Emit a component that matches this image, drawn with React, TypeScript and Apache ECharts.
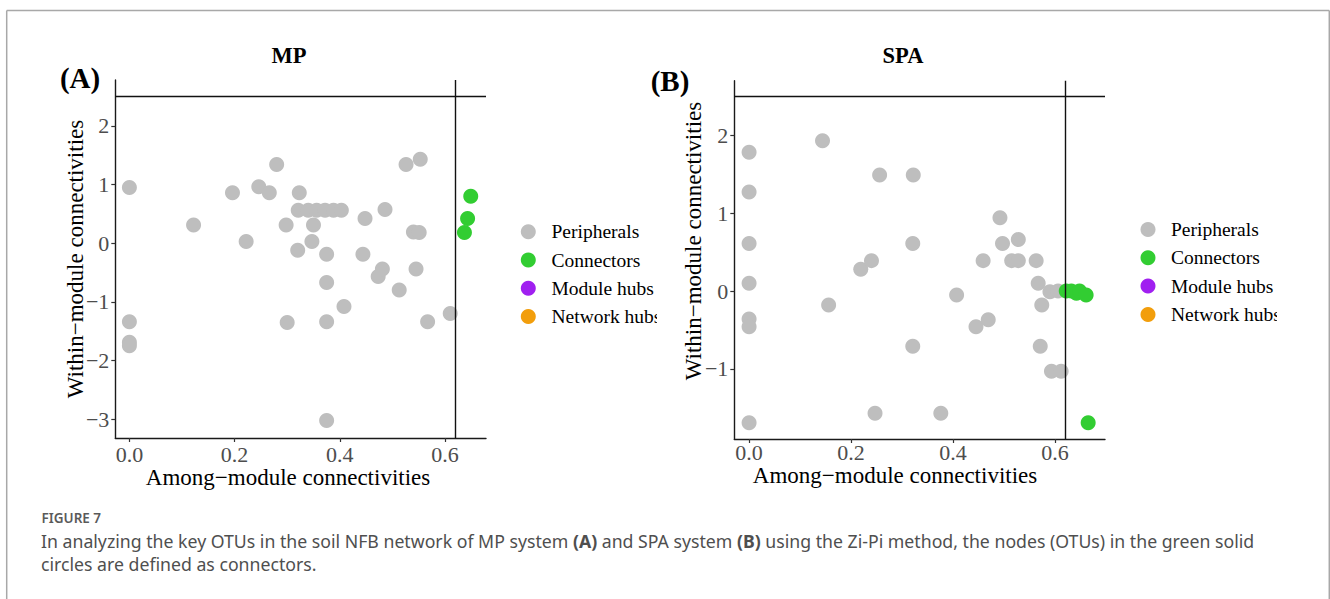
import React, { useEffect, useRef } from "react";
import * as echarts from "echarts";

// Axis ticks and Zi-Pi thresholds
const xTicks = [0, 0.2, 0.4, 0.6];
const yTicksMP = [-3, -2, -1, 0, 1, 2];
const yTicksSPA = [-1, 0, 1, 2];
const ziThreshold = 2.5;
const piThreshold = 0.62;

// MP system: [among-module Pi, within-module Zi]
const mpPeripherals: [number, number][] = [
  [0.0, 0.95], [0.0, -1.34], [0.0, -1.69], [0.0, -1.75],
  [0.122, 0.31], [0.196, 0.86], [0.222, 0.03], [0.246, 0.96],
  [0.266, 0.86], [0.28, 1.34], [0.298, 0.31], [0.3, -1.35],
  [0.323, 0.86], [0.32, -0.12],
  [0.321, 0.56], [0.34, 0.56], [0.356, 0.56], [0.372, 0.56], [0.388, 0.56], [0.403, 0.56],
  [0.35, 0.31], [0.347, 0.03], [0.375, -0.19], [0.375, -0.67],
  [0.375, -1.34], [0.375, -3.02], [0.408, -1.08], [0.448, 0.42],
  [0.444, -0.19], [0.473, -0.57], [0.481, -0.44], [0.486, 0.575],
  [0.513, -0.8], [0.526, 1.34], [0.553, 1.43], [0.54, 0.19],
  [0.551, 0.18], [0.545, -0.44], [0.567, -1.34], [0.61, -1.2],
];
const mpConnectors: [number, number][] = [
  [0.649, 0.8], [0.643, 0.42], [0.637, 0.18],
];

// SPA system: [among-module Pi, within-module Zi]
const spaPeripherals: [number, number][] = [
  [0.0, 1.78], [0.0, 1.27], [0.0, 0.61], [0.0, 0.1], [0.0, -0.36], [0.0, -0.46], [0.0, -1.69],
  [0.144, 1.93], [0.156, -0.18], [0.219, 0.28], [0.24, 0.39], [0.247, -1.57],
  [0.256, 1.49], [0.322, 1.49], [0.321, 0.61], [0.321, -0.71], [0.376, -1.57],
  [0.407, -0.05], [0.445, -0.46], [0.469, -0.37], [0.459, 0.39], [0.492, 0.94],
  [0.497, 0.61], [0.528, 0.66], [0.515, 0.39], [0.528, 0.39], [0.563, 0.39],
  [0.567, 0.1], [0.59, -0.01], [0.574, -0.18], [0.571, -0.71], [0.593, -1.03],
  [0.612, -1.03], [0.606, 0.0],
];
const spaConnectors: [number, number][] = [
  [0.622, 0.0], [0.632, 0.0], [0.642, -0.03], [0.648, 0.0], [0.661, -0.05], [0.665, -1.69],
];

// Node roles shown in the legends
const roles = ["Peripherals", "Connectors", "Module hubs", "Network hubs"];
const roleColors = ["#BEBEBE", "#32CD32", "#A020F0", "#F29E0C"];

const SERIF = "'Liberation Serif', 'Times New Roman', serif";
const SANS = "'Noto Sans', 'Open Sans', sans-serif";

const minus = (v: number) => (v < 0 ? "\u2212" + Math.abs(v) : String(v));

function xAxisFor(gridIndex: number, min: number, max: number, margin: number) {
  return {
    type: "value",
    gridIndex,
    min,
    max,
    axisLine: { show: true, onZero: false, lineStyle: { color: "#1a1a1a", width: 1.4 } },
    axisTick: { show: true, length: 4, customValues: xTicks, lineStyle: { color: "#333", width: 1.2 } },
    axisLabel: {
      customValues: xTicks,
      margin,
      formatter: (v: number) => v.toFixed(1),
      color: "#4D4D4D",
      fontFamily: SERIF,
      fontSize: 22,
    },
    splitLine: { show: false },
  };
}

function yAxisFor(gridIndex: number, min: number, max: number, ticks: number[]) {
  return {
    type: "value",
    gridIndex,
    min,
    max,
    axisLine: { show: true, onZero: false, lineStyle: { color: "#1a1a1a", width: 1.4 } },
    axisTick: { show: true, length: 4, customValues: ticks, lineStyle: { color: "#333", width: 1.2 } },
    axisLabel: {
      customValues: ticks,
      margin: 6,
      formatter: (v: number) => minus(v),
      color: "#4D4D4D",
      fontFamily: SERIF,
      fontSize: 22,
    },
    splitLine: { show: false },
  };
}

function seriesFor(idx: number, peri: [number, number][], conn: [number, number][]) {
  return [
    {
      name: roles[0],
      type: "scatter",
      xAxisIndex: idx,
      yAxisIndex: idx,
      data: peri,
      symbolSize: 15,
      itemStyle: { color: roleColors[0], opacity: 1 },
      z: 2,
    },
    {
      name: roles[1],
      type: "scatter",
      xAxisIndex: idx,
      yAxisIndex: idx,
      data: conn,
      symbolSize: 15,
      itemStyle: { color: roleColors[1], opacity: 1 },
      z: 3,
      markLine: {
        silent: true,
        symbol: "none",
        label: { show: false },
        lineStyle: { color: "#111", width: 1.4, type: "solid" },
        data: [{ yAxis: ziThreshold }, { xAxis: piThreshold }],
        z: 5,
      },
    },
  ];
}

function legendFor(cx: number, textX: number, top: number, clipX: number) {
  const items: any[] = [];
  roles.forEach((r, i) => {
    const y = top + i * 28.3;
    items.push({
      type: "circle",
      shape: { cx, cy: y, r: 7.5 },
      style: { fill: roleColors[i] },
      z: 10,
    });
    items.push({
      type: "text",
      x: textX,
      y,
      style: {
        text: r,
        fontFamily: SERIF,
        fontSize: 19.5,
        fill: "#000",
        align: "left",
        verticalAlign: "middle",
      },
      z: 10,
    });
  });
  // the legend box is cut off at the panel edge
  items.push({
    type: "rect",
    shape: { x: clipX, y: top + 3 * 28.3 - 14, width: 30, height: 28 },
    style: { fill: "#fff" },
    z: 20,
  });
  return items;
}

function label(text: string, x: number, y: number, size: number, bold = false, rotation = 0) {
  return {
    type: "text",
    x,
    y,
    rotation,
    style: {
      text,
      fontFamily: SERIF,
      fontSize: size,
      fontWeight: bold ? "bold" : "normal",
      fill: "#000",
      align: "center",
      verticalAlign: "middle",
    },
    z: 10,
  };
}

export default function App() {
  const ref = useRef<HTMLDivElement>(null);

  useEffect(() => {
    document.body.style.margin = "0";
    const chart = echarts.init(ref.current!, undefined, { renderer: "svg" });

    const frameColor = "#A8A8A8";
    const capColor = "#4F4F4F";
    const capSize = 17.7;
    const graphic: any[] = [
      // figure frame
      { type: "line", shape: { x1: 6.7, y1: 10.5, x2: 1329.3, y2: 10.5 }, style: { stroke: frameColor, lineWidth: 1.5 } },
      { type: "line", shape: { x1: 6.7, y1: 10.5, x2: 6.7, y2: 599 }, style: { stroke: frameColor, lineWidth: 1.5 } },
      { type: "line", shape: { x1: 1329.3, y1: 10.5, x2: 1329.3, y2: 599 }, style: { stroke: frameColor, lineWidth: 1.5 } },
      // panel titles and tags
      label("MP", 289, 55, 22.5, true),
      label("(A)", 80, 78, 29, true),
      label("SPA", 903, 55, 22.5, true),
      label("(B)", 670, 81, 29, true),
      // axis titles
      label("Among\u2212module connectivities", 288, 477, 23),
      label("Within\u2212module connectivities", 75, 259, 23, false, Math.PI / 2),
      label("Among\u2212module connectivities", 895, 475.5, 23),
      label("Within\u2212module connectivities", 693, 241, 23, false, Math.PI / 2),
      ...legendFor(528.3, 551.5, 231.7, 657),
      ...legendFor(1148, 1171, 229.5, 1277),
      // caption
      {
        type: "text",
        x: 41.5,
        y: 518.3,
        style: {
          text: "FIGURE 7",
          fontFamily: SANS,
          fontSize: 13.5,
          fontWeight: 600,
          fill: "#5A5A5A",
          align: "left",
          verticalAlign: "middle",
        },
      },
      {
        type: "text",
        x: 41,
        y: 540.5,
        style: {
          text:
            "{n|In analyzing the key OTUs in the soil NFB network of MP system }{b|(A)}{n| and SPA system }{b|(B)}{n| using the Zi-Pi method, the nodes (OTUs) in the green solid}",
          align: "left",
          verticalAlign: "middle",
          rich: {
            n: { fontFamily: SANS, fontSize: capSize, fill: capColor },
            b: { fontFamily: SANS, fontSize: capSize, fontWeight: "bold", fill: capColor },
          },
        },
      },
      {
        type: "text",
        x: 41,
        y: 564,
        style: {
          text: "circles are defined as connectors.",
          fontFamily: SANS,
          fontSize: capSize,
          fill: capColor,
          align: "left",
          verticalAlign: "middle",
        },
      },
    ];

    chart.setOption({
      animation: false,
      backgroundColor: "#fff",
      grid: [
        { left: 115.3, top: 80, width: 370.7, height: 358 },
        { left: 734.3, top: 80.7, width: 370.7, height: 358.3 },
      ],
      xAxis: [xAxisFor(0, -0.0268, 0.678, 5), xAxisFor(1, -0.029, 0.698, 2)],
      yAxis: [
        yAxisFor(0, -3.32, 2.78, yTicksMP),
        yAxisFor(1, -1.9, 2.7, yTicksSPA),
      ],
      series: [
        ...seriesFor(0, mpPeripherals, mpConnectors),
        ...seriesFor(1, spaPeripherals, spaConnectors),
      ],
      graphic,
    });

    return () => chart.dispose();
  }, []);

  return <div ref={ref} style={{ width: 1330, height: 599 }} />;
}
